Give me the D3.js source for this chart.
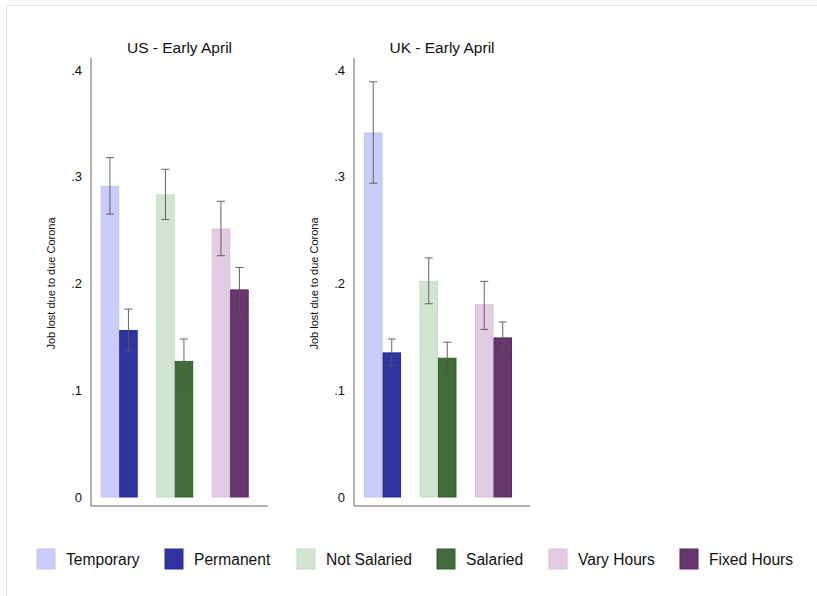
<!DOCTYPE html>
<html><head><meta charset="utf-8">
<script src="https://cdn.jsdelivr.net/npm/d3@7"></script>
<style>body{margin:0;background:#fff;}svg{display:block;font-family:"Liberation Sans",Arial,Helvetica,sans-serif;}</style>
</head><body>
<svg id="c" width="817" height="596"></svg>
<script>
const panels = ["US - Early April", "UK - Early April"];
const groups = ["Employment", "Salary", "Hours"];
const series = ["Temporary", "Permanent", "Not Salaried", "Salaried", "Vary Hours", "Fixed Hours"];
const seriesGroup = [0, 0, 1, 1, 2, 2];
const colors = ["#cacdfa", "#3034a0", "#d2e5d2", "#416b39", "#e1cce3", "#66376a"];
const strokes = ["#c0c4f4", "#2a2e98", "#c6dcc6", "#365e30", "#d8c0da", "#5a2a5e"];
const usValues = [0.291, 0.156, 0.283, 0.127, 0.251, 0.194];
const usLow    = [0.265, 0.136, 0.260, 0.106, 0.226, 0.173];
const usHigh   = [0.318, 0.176, 0.307, 0.148, 0.277, 0.215];
const ukValues = [0.341, 0.135, 0.202, 0.130, 0.180, 0.149];
const ukLow    = [0.294, 0.123, 0.181, 0.115, 0.157, 0.133];
const ukHigh   = [0.389, 0.148, 0.224, 0.145, 0.202, 0.164];
const yTicks = [0, 0.1, 0.2, 0.3, 0.4];
const yTickLabels = ["0", ".1", ".2", ".3", ".4"];
const yLabel = "Job lost due to due Corona";

const panelData = [
  {title: panels[0], v: usValues, lo: usLow, hi: usHigh},
  {title: panels[1], v: ukValues, lo: ukLow, hi: ukHigh}
];
const svg = d3.select("#c");

// faint frame
svg.append("path").attr("d","M6.5,596 L6.5,5.5 L817,5.5").attr("fill","none").attr("stroke","#e6e6e6").attr("stroke-width",1);

const layout = [{x0: 91, x1: 268, b0: 100.7}, {x0: 354, x1: 530, b0: 364}];
const y = d3.scaleLinear().domain([0, 0.4]).range([497, 70]);

panelData.forEach((p, pi) => {
  const L = layout[pi];
  const g = svg.append("g");
  const gx = d3.scaleBand().domain(groups).range([L.b0, L.b0 + 148]).paddingInner(1/3).paddingOuter(0);
  const inner = d3.scaleBand().domain([0,1]).range([0, gx.bandwidth()]);
  const rows = series.map((s, i) => ({s, i, v: p.v[i], lo: p.lo[i], hi: p.hi[i], grp: groups[seriesGroup[i]], k: i % 2}));

  g.selectAll("rect.bar").data(rows).enter().append("rect")
    .attr("x", d => gx(d.grp) + inner(d.k) + 0.5)
    .attr("width", inner.bandwidth() - 1)
    .attr("y", d => y(d.v))
    .attr("height", d => y(0) - y(d.v))
    .attr("fill", d => colors[d.i])
    .attr("stroke", d => strokes[d.i])
    .attr("stroke-width", 1);

  const cx = d => gx(d.grp) + inner(d.k) + inner.bandwidth()/2;
  const eg = g.selectAll("g.err").data(rows).enter().append("g").attr("stroke", "#555").attr("stroke-width", 1).attr("fill","none").attr("opacity",0.9);
  eg.append("line").attr("x1", cx).attr("x2", cx).attr("y1", d => y(d.hi)).attr("y2", d => y(d.lo));
  eg.append("line").attr("x1", d => cx(d)-4).attr("x2", d => cx(d)+4).attr("y1", d => y(d.hi)).attr("y2", d => y(d.hi));
  eg.append("line").attr("x1", d => cx(d)-4).attr("x2", d => cx(d)+4).attr("y1", d => y(d.lo)).attr("y2", d => y(d.lo));

  // y axis
  const ya = d3.axisLeft(y).tickValues(yTicks).tickFormat((d,i) => yTickLabels[i]).tickSize(0).tickPadding(9);
  const yg = g.append("g").attr("transform", `translate(${L.x0},0)`).call(ya);
  yg.select(".domain").remove();
  yg.selectAll("text").attr("font-size", 13).attr("fill", "#111").attr("font-family", '"Liberation Sans",Arial,sans-serif');
  g.append("line").attr("x1", L.x0).attr("x2", L.x0).attr("y1", 58).attr("y2", 506).attr("stroke", "#666").attr("stroke-width", 1);
  g.append("line").attr("x1", L.x0).attr("x2", L.x1).attr("y1", 506).attr("y2", 506).attr("stroke", "#666").attr("stroke-width", 1);

  g.append("text").attr("x", (L.x0 + L.x1)/2).attr("y", 53).attr("text-anchor", "middle")
    .attr("font-size", 15.5).attr("fill", "#111").text(p.title);
  g.append("text").attr("transform", `translate(${L.x0 - 36},${y(0.2)}) rotate(-90)`)
    .attr("text-anchor", "middle").attr("font-size", 11).attr("fill", "#111").text(yLabel);
});

// legend
const legX = [37, 165, 297, 437, 549, 680];
const lg = svg.append("g");
series.forEach((s, i) => {
  lg.append("rect").attr("x", legX[i]).attr("y", 549).attr("width", 18).attr("height", 20)
    .attr("fill", colors[i]).attr("stroke", strokes[i]);
  lg.append("text").attr("x", legX[i] + 29).attr("y", 565).attr("font-size", 15.6).attr("fill", "#111").text(s);
});
</script>
</body></html>
